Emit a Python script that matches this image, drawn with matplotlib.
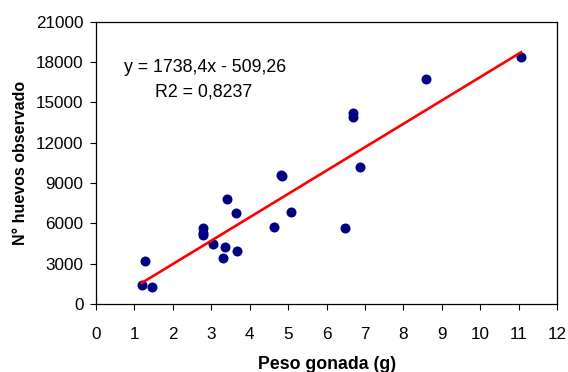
import numpy as np
import matplotlib
matplotlib.use("Agg")
import matplotlib.pyplot as plt

plt.rcParams['font.family'] = ['Liberation Sans', 'DejaVu Sans']

# gonad weight (g) and observed egg counts
peso = [1.19, 1.45, 1.28, 2.79, 2.79, 2.78, 3.04, 3.36, 3.31, 3.67, 3.42, 3.64,
        4.64, 4.82, 4.83, 5.07, 6.48, 6.68, 6.68, 6.88, 8.59, 11.06]
huevos = [1413, 1290, 3220, 5630, 5260, 5100, 4460, 4220, 3440, 3960, 7790, 6750,
          5750, 9600, 9500, 6850, 5650, 14200, 13900, 10150, 16750, 18330]

slope, intercept = 1738.4, -509.26
r2 = 0.8237

fig = plt.figure(figsize=(5.68, 3.72), dpi=100)
ax = fig.add_axes([0.169, 0.183, 0.812, 0.759])

ax.scatter(peso, huevos, s=52, color='#000080', zorder=3, linewidths=0)
xl = np.array([min(peso), max(peso)])
ax.plot(xl, slope * xl + intercept, color='#ff0000', lw=1.9, zorder=4)

ax.set_xlim(0, 12)
ax.set_ylim(0, 21000)
ax.set_xticks(range(0, 13))
ax.set_yticks(range(0, 21001, 3000))
ax.tick_params(direction='out', length=4, width=0.8, labelsize=12.3)
ax.tick_params(axis='x', pad=12.5)
ax.tick_params(axis='y', pad=5)
for s in ax.spines.values():
    s.set_linewidth(0.9)

ax.set_xlabel('Peso gonada (g)', fontsize=12.8, fontweight='bold', labelpad=10)
ax.set_ylabel('N° huevos observado', fontsize=11.5, fontweight='bold', labelpad=6)

ax.text(0.73, 17555, 'y = 1738,4x - 509,26', fontsize=12.8, va='center')
ax.text(1.53, 15760, f'R2 = {r2}'.replace('.', ','), fontsize=12.8, va='center')

fig.savefig('out.png', dpi=100)
